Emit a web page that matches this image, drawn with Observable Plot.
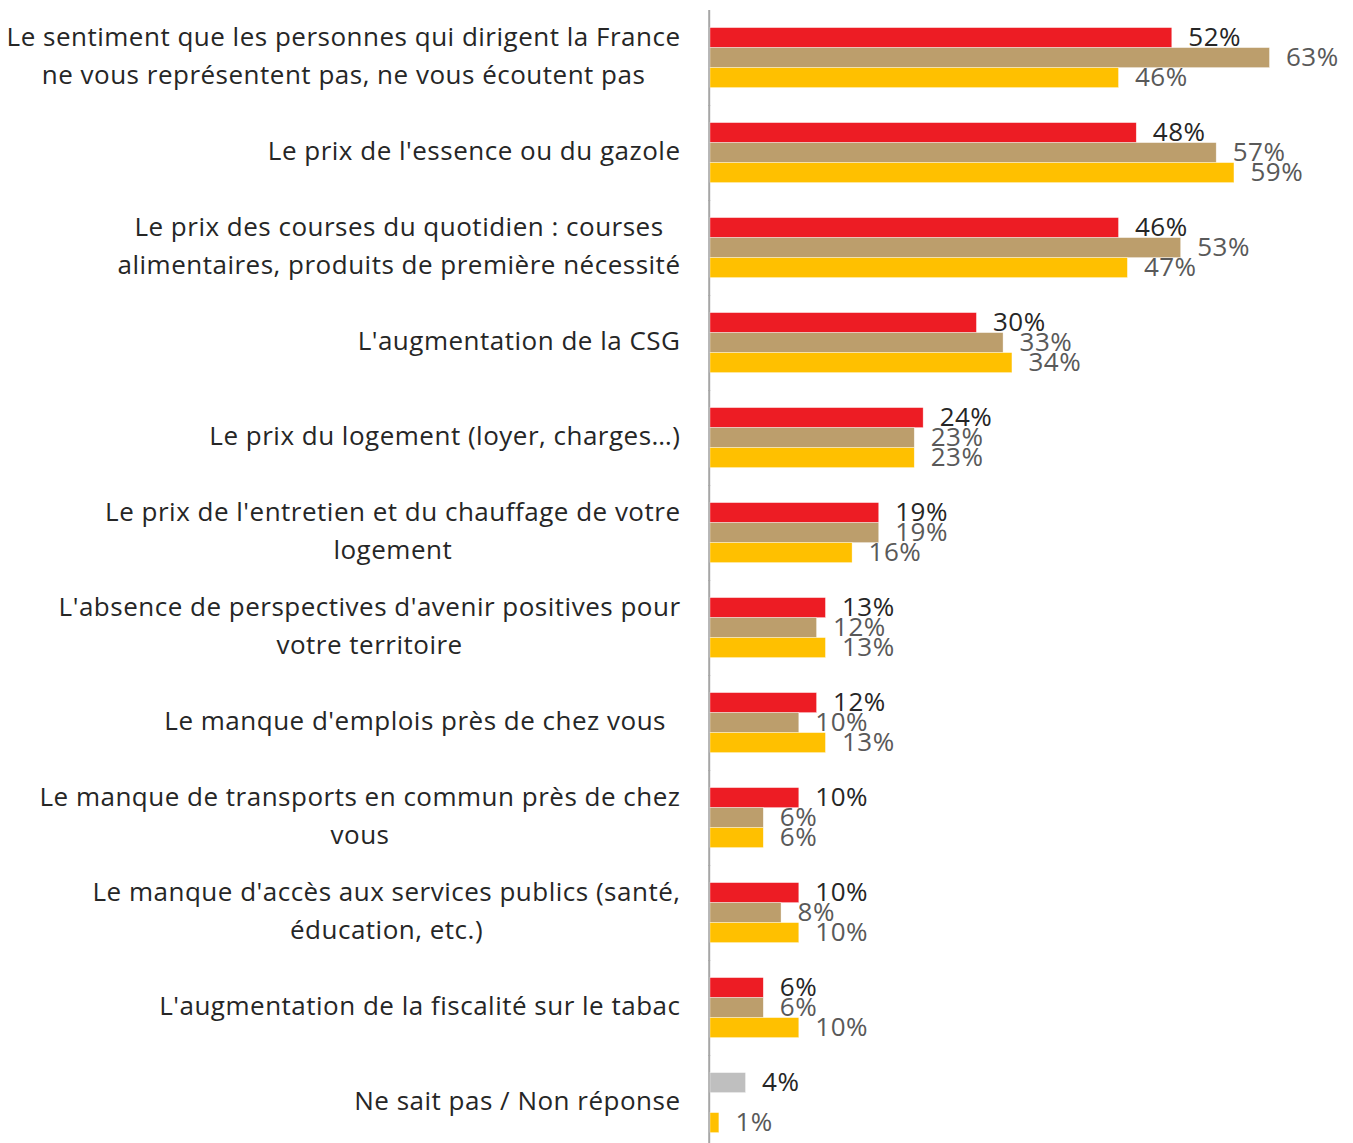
<!DOCTYPE html>
<html><head><meta charset="utf-8">
<script src="https://cdn.jsdelivr.net/npm/d3@7"></script>
<script src="https://cdn.jsdelivr.net/npm/@observablehq/plot@0.6"></script>
<style>body{margin:0;background:#fff} svg{display:block}</style>
</head><body><div id="chart"></div><script>
const categories = [
  "Le sentiment que les personnes qui dirigent la France\nne vous représentent pas, ne vous écoutent pas",
  "Le prix de l'essence ou du gazole",
  "Le prix des courses du quotidien : courses\nalimentaires, produits de première nécessité",
  "L'augmentation de la CSG",
  "Le prix du logement (loyer, charges…)",
  "Le prix de l'entretien et du chauffage de votre\nlogement",
  "L'absence de perspectives d'avenir positives pour\nvotre territoire",
  "Le manque d'emplois près de chez vous\u00a0\u00a0",
  "Le manque de transports en commun près de chez\nvous",
  "Le manque d'accès aux services publics (santé,\néducation, etc.)",
  "L'augmentation de la fiscalité sur le tabac",
  "Ne sait pas / Non réponse"
];
const series1 = [52, 48, 46, 30, 24, 19, 13, 12, 10, 10, 6, null];
const series2 = [63, 57, 53, 33, 23, 19, 12, 10, 6, 8, 6, null];
const series3 = [46, 59, 47, 34, 23, 16, 13, 13, 6, 10, 10, 1];
const nonReponse = [null, null, null, null, null, null, null, null, null, null, null, 4];

const slots = ["s1", "s2", "s3"];
const kinds = ["s1", "s2", "s3", "nsp"];
const kindColors = ["#ED1C24", "#BC9E6C", "#FFC000", "#BFBFBF"];

const rows = [];
categories.forEach((cat, i) => {
  if (series1[i] != null) rows.push({cat, slot: "s1", kind: "s1", value: series1[i]});
  if (nonReponse[i] != null) rows.push({cat, slot: "s1", kind: "nsp", value: nonReponse[i]});
  if (series2[i] != null) rows.push({cat, slot: "s2", kind: "s2", value: series2[i]});
  if (series3[i] != null) rows.push({cat, slot: "s3", kind: "s3", value: series3[i]});
});
const catRows = categories.map(cat => ({cat}));

const chart = Plot.plot({
  width: 1353,
  height: 1143,
  marginLeft: 710,
  marginRight: 3.6,
  marginTop: 17.4,
  marginBottom: 0.4,
  style: {fontFamily: "'Open Sans', sans-serif", background: "#fff", letterSpacing: "0.5px"},
  x: {domain: [0, 72], axis: null},
  y: {domain: slots, axis: null, padding: 0},
  fy: {domain: categories, axis: null, paddingInner: 0.3702, paddingOuter: 0.09},
  color: {domain: kinds, range: kindColors},
  marks: [
    Plot.ruleX([0], {stroke: "#A6A6A6", strokeWidth: 2, dx: -1.3, insetTop: -18, insetBottom: -18}),
    Plot.barX(rows, {fy: "cat", y: "slot", x: "value", fill: "kind", stroke: "#fff", strokeWidth: 0.6, strokeOpacity: 0.6}),
    Plot.text(rows.filter(d => d.kind === "s1" || d.kind === "nsp"), {
      fy: "cat", y: "slot", x: "value", text: d => d.value + "%", textAnchor: "start",
      dx: 16, dy: 0, fontSize: 26, fill: "#262626"
    }),
    Plot.text(rows.filter(d => d.kind === "s2" || d.kind === "s3"), {
      fy: "cat", y: "slot", x: "value", text: d => d.value + "%", textAnchor: "start",
      dx: 16, dy: 0, fontSize: 26, fill: "#595959"
    }),
    Plot.text(catRows, {
      fy: "cat", text: "cat", frameAnchor: "left", textAnchor: "middle", dx: -30, dy: -6,
      fontSize: 26, lineHeight: 1.46, fill: "#262626"
    })
  ]
});
document.getElementById("chart").append(chart);
const catSet = new Set(categories);
chart.querySelectorAll("text").forEach(t => {
  const spans = t.querySelectorAll("tspan");
  const full = spans.length ? Array.from(spans, s => s.textContent).join("\n") : t.textContent;
  if (!catSet.has(full)) return;
  const w = t.getBBox().width;
  const tr = t.getAttribute("transform") || "";
  t.setAttribute("transform", tr + ` translate(${-w / 2},0)`);
});
</script></body></html>
